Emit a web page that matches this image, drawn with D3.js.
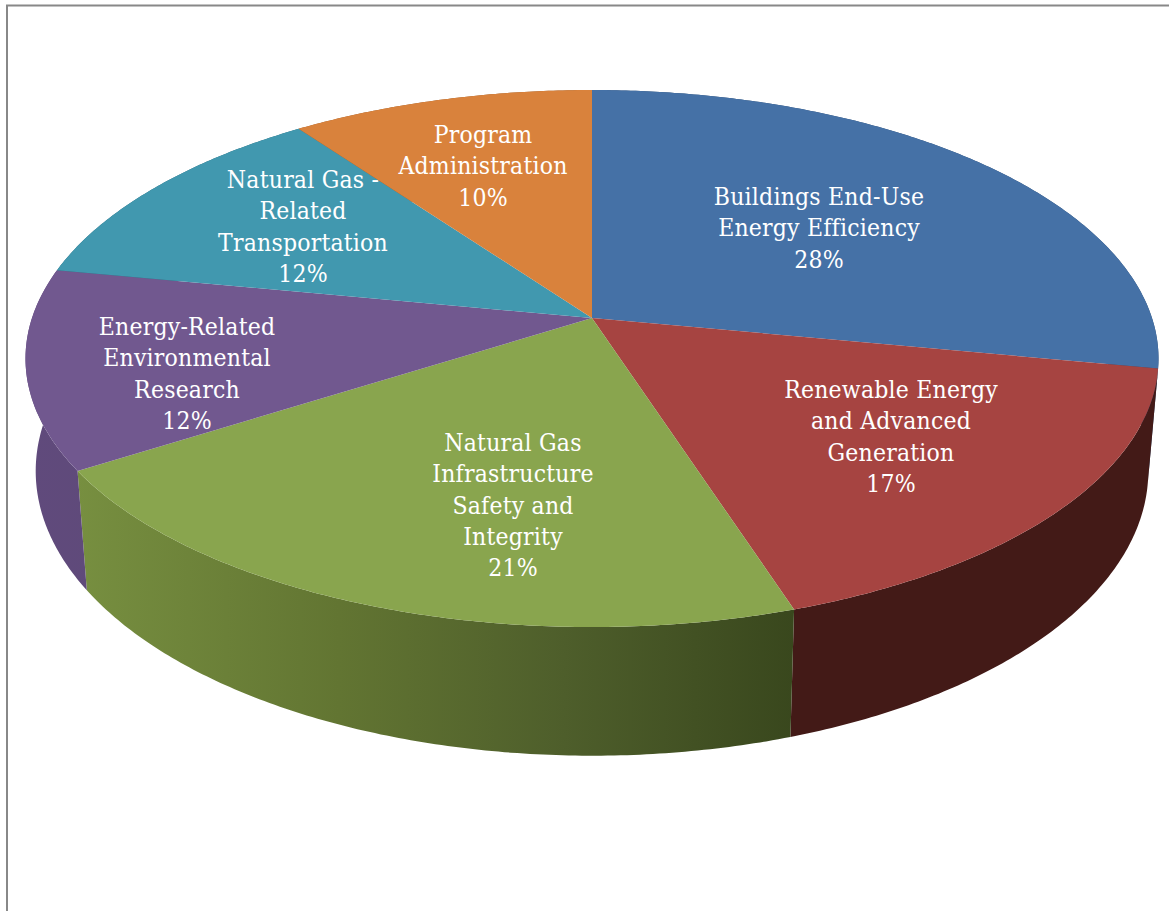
<!DOCTYPE html>
<html>
<head>
<meta charset="utf-8">
<script src="https://cdn.jsdelivr.net/npm/d3@7"></script>
<style>
  html, body { margin: 0; padding: 0; background: #fff; overflow: hidden; }
  svg { display: block; }
  text { font-family: "DejaVu Serif Condensed", "Liberation Serif", serif; font-size: 24.5px; letter-spacing: 0.2px; fill: #fff; text-anchor: middle; }
</style>
</head>
<body>
<script>
// Funding shares, clockwise from twelve o'clock.
const categories = [
  "Buildings End-Use Energy Efficiency",
  "Renewable Energy and Advanced Generation",
  "Natural Gas Infrastructure Safety and Integrity",
  "Energy-Related Environmental Research",
  "Natural Gas - Related Transportation",
  "Program Administration"
];
const shares = [28, 17, 21, 12, 12, 10];
const labelLines = [
  ["Buildings End-Use", "Energy Efficiency"],
  ["Renewable Energy", "and Advanced", "Generation"],
  ["Natural Gas", "Infrastructure", "Safety and", "Integrity"],
  ["Energy-Related", "Environmental", "Research"],
  ["Natural Gas -", "Related", "Transportation"],
  ["Program", "Administration"]
];
const topColors = ["#4571a6", "#a64441", "#89a54e", "#71588f", "#4198af", "#d9823c"];
const wallFills = ["#2f4d72", "#431a17", "url(#greenWall)", "url(#purpleWall)", "#2b6676", "#94592a"];

// Centre x and first baseline of each label block.
const labelAnchors = [[819, 205], [891, 398], [513, 451], [187, 335], [303, 188], [483, 143]];
const lineStep = 31.3;

const width = 1169, height = 911;
const svg = d3.select("body").append("svg").attr("width", width).attr("height", height);

// Wall shading runs left to right across the front of the pie.
const defs = svg.append("defs");
function wallGradient(id, x1, x2, stops) {
  const g = defs.append("linearGradient").attr("id", id)
    .attr("gradientUnits", "userSpaceOnUse")
    .attr("x1", x1).attr("x2", x2).attr("y1", 0).attr("y2", 0);
  stops.forEach(([o, c]) => g.append("stop").attr("offset", o).attr("stop-color", c));
}
wallGradient("greenWall", 76, 827, [[0, "#778f40"], [0.35, "#627532"], [0.65, "#4e5e2b"], [1, "#36441b"]]);
wallGradient("purpleWall", 25, 104, [[0, "#604a7c"], [1, "#5f4a7a"]]);

svg.append("rect").attr("x", 7).attr("y", 5.5).attr("width", 1400).attr("height", 1200)
  .attr("fill", "#fff").attr("stroke", "#888").attr("stroke-width", 2);

// Perspective view of the pie's circular top: depth foreshortens toward the back.
const cx = 592, cy = 318, radiusX = 560, radiusY = 262.4, perspective = -0.151;
function topPoint(angle) {
  const u = Math.sin(angle), v = -Math.cos(angle);
  const w = 1 + perspective * v;
  return [cx + radiusX * u / w, cy + radiusY * v / w];
}
// The base sits below the top face and slightly narrower.
function basePoint(angle) {
  const [x, y] = topPoint(angle);
  return [cx + 0.982 * (x - cx), 1.06 * y + 91];
}

const pie = d3.pie().value(d => d).sort(null);
const arcs = pie(shares);
const line = d3.line();

function rim(a0, a1, project) {
  const n = Math.max(2, Math.ceil((a1 - a0) / 0.01));
  return d3.range(n + 1).map(i => project(a0 + (a1 - a0) * i / n));
}

// Walls first, the top faces then cover whatever lies behind them.
svg.append("g").selectAll("path").data(arcs).join("path")
  .attr("d", d => line(rim(d.startAngle, d.endAngle, topPoint)
    .concat(rim(d.startAngle, d.endAngle, basePoint).reverse())) + "Z")
  .attr("fill", (d, i) => wallFills[i]);

svg.append("g").selectAll("path").data(arcs).join("path")
  .attr("d", d => line([[cx, cy]].concat(rim(d.startAngle, d.endAngle, topPoint))) + "Z")
  .attr("fill", (d, i) => topColors[i]);

const labels = svg.append("g").selectAll("text").data(arcs).join("text")
  .attr("aria-label", (d, i) => categories[i]);
labels.each(function (d, i) {
  const rows = labelLines[i].concat(d.data + "%");
  d3.select(this).selectAll("tspan").data(rows).join("tspan")
    .attr("x", labelAnchors[i][0])
    .attr("y", (r, j) => labelAnchors[i][1] + j * lineStep)
    .text(r => r);
});
</script>
</body>
</html>
